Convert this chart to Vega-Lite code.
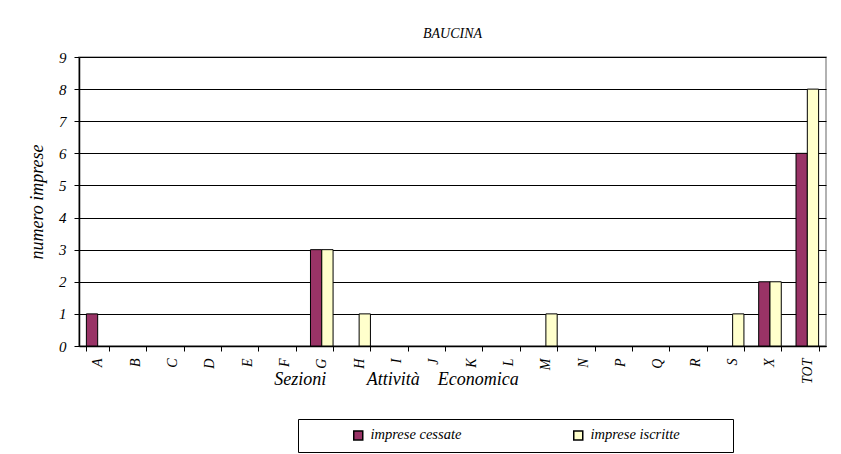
{
  "$schema": "https://vega.github.io/schema/vega-lite/v6.json",
  "autosize": "none",
  "width": 747,
  "height": 289,
  "padding": {"left": 79, "top": 57, "right": 15, "bottom": 108},
  "background": "white",
  "title": {
    "text": "BAUCINA",
    "font": "Liberation Serif",
    "fontSize": 14,
    "fontStyle": "italic",
    "fontWeight": "normal",
    "color": "black",
    "baseline": "alphabetic",
    "offset": -2
  },
  "data": {
    "values": [
      {"sezione": "A", "serie": "imprese cessate", "valore": 1},
      {"sezione": "A", "serie": "imprese iscritte", "valore": 0},
      {"sezione": "B", "serie": "imprese cessate", "valore": 0},
      {"sezione": "B", "serie": "imprese iscritte", "valore": 0},
      {"sezione": "C", "serie": "imprese cessate", "valore": 0},
      {"sezione": "C", "serie": "imprese iscritte", "valore": 0},
      {"sezione": "D", "serie": "imprese cessate", "valore": 0},
      {"sezione": "D", "serie": "imprese iscritte", "valore": 0},
      {"sezione": "E", "serie": "imprese cessate", "valore": 0},
      {"sezione": "E", "serie": "imprese iscritte", "valore": 0},
      {"sezione": "F", "serie": "imprese cessate", "valore": 0},
      {"sezione": "F", "serie": "imprese iscritte", "valore": 0},
      {"sezione": "G", "serie": "imprese cessate", "valore": 3},
      {"sezione": "G", "serie": "imprese iscritte", "valore": 3},
      {"sezione": "H", "serie": "imprese cessate", "valore": 0},
      {"sezione": "H", "serie": "imprese iscritte", "valore": 1},
      {"sezione": "I", "serie": "imprese cessate", "valore": 0},
      {"sezione": "I", "serie": "imprese iscritte", "valore": 0},
      {"sezione": "J", "serie": "imprese cessate", "valore": 0},
      {"sezione": "J", "serie": "imprese iscritte", "valore": 0},
      {"sezione": "K", "serie": "imprese cessate", "valore": 0},
      {"sezione": "K", "serie": "imprese iscritte", "valore": 0},
      {"sezione": "L", "serie": "imprese cessate", "valore": 0},
      {"sezione": "L", "serie": "imprese iscritte", "valore": 0},
      {"sezione": "M", "serie": "imprese cessate", "valore": 0},
      {"sezione": "M", "serie": "imprese iscritte", "valore": 1},
      {"sezione": "N", "serie": "imprese cessate", "valore": 0},
      {"sezione": "N", "serie": "imprese iscritte", "valore": 0},
      {"sezione": "P", "serie": "imprese cessate", "valore": 0},
      {"sezione": "P", "serie": "imprese iscritte", "valore": 0},
      {"sezione": "Q", "serie": "imprese cessate", "valore": 0},
      {"sezione": "Q", "serie": "imprese iscritte", "valore": 0},
      {"sezione": "R", "serie": "imprese cessate", "valore": 0},
      {"sezione": "R", "serie": "imprese iscritte", "valore": 0},
      {"sezione": "S", "serie": "imprese cessate", "valore": 0},
      {"sezione": "S", "serie": "imprese iscritte", "valore": 1},
      {"sezione": "X", "serie": "imprese cessate", "valore": 2},
      {"sezione": "X", "serie": "imprese iscritte", "valore": 2},
      {"sezione": "TOT", "serie": "imprese cessate", "valore": 6},
      {"sezione": "TOT", "serie": "imprese iscritte", "valore": 8}
    ]
  },
  "transform": [{"filter": "datum.valore > 0"}],
  "mark": {"type": "bar", "stroke": "black", "strokeWidth": 1},
  "encoding": {
    "x": {
      "field": "sezione",
      "type": "nominal",
      "sort": ["A","B","C","D","E","F","G","H","I","J","K","L","M","N","P","Q","R","S","X","TOT"],
      "scale": {
        "domain": ["A","B","C","D","E","F","G","H","I","J","K","L","M","N","P","Q","R","S","X","TOT"],
        "paddingInner": 0.395,
        "paddingOuter": 0.1975
      },
      "axis": {
        "title": "Sezioni\u00a0\u00a0\u00a0\u00a0\u00a0\u00a0\u00a0\u00a0\u00a0Attività\u00a0\u00a0\u00a0\u00a0Economica",
        "titleFont": "Liberation Serif",
        "titleFontSize": 18,
        "titleFontStyle": "italic",
        "titleFontWeight": "normal",
        "titleColor": "black",
        "titleAlign": "center",
        "titleBaseline": "alphabetic",
        "titleX": 317,
        "titleY": 38,
        "labelAngle": 270,
        "labelFont": "Liberation Serif",
        "labelFontSize": 14,
        "labelFontStyle": "italic",
        "labelColor": "black",
        "labelPadding": 7,
        "tickBand": "extent",
        "tickSize": 5,
        "tickColor": "black",
        "domainColor": "black",
        "domainWidth": 1.5,
        "grid": false
      }
    },
    "xOffset": {
      "field": "serie",
      "type": "nominal",
      "scale": {"domain": ["imprese cessate", "imprese iscritte"], "paddingInner": 0, "paddingOuter": 0}
    },
    "y": {
      "field": "valore",
      "type": "quantitative",
      "scale": {"domain": [0, 9], "nice": false},
      "axis": {
        "title": "numero imprese",
        "titleFont": "Liberation Serif",
        "titleFontSize": 18,
        "titleFontStyle": "italic",
        "titleFontWeight": "normal",
        "titleColor": "black",
        "titlePadding": 12,
        "values": [0,1,2,3,4,5,6,7,8,9],
        "labelFont": "Liberation Serif",
        "labelFontSize": 15,
        "labelFontStyle": "italic",
        "labelColor": "black",
        "labelPadding": 8,
        "tickSize": 5,
        "tickColor": "black",
        "domainColor": "black",
        "domainWidth": 1.5,
        "grid": true,
        "gridColor": "black",
        "gridWidth": 1
      }
    },
    "color": {
      "field": "serie",
      "type": "nominal",
      "scale": {"domain": ["imprese cessate", "imprese iscritte"], "range": ["#993366", "#FFFFCC"]},
      "legend": {
        "title": null,
        "orient": "none",
        "direction": "horizontal",
        "legendX": 219,
        "legendY": 362,
        "strokeColor": "black",
        "padding": 9,
        "symbolType": "square",
        "symbolSize": 81,
        "symbolStrokeColor": "black",
        "symbolStrokeWidth": 1.5,
        "symbolOffset": 44,
        "labelOffset": 5,
        "columnPadding": 65,
        "labelFont": "Liberation Serif",
        "labelFontSize": 14.5,
        "labelFontStyle": "italic",
        "labelColor": "black",
        "labelExpr": "datum.label == 'imprese iscritte' ? datum.label + '\u00a0\u00a0\u00a0\u00a0\u00a0\u00a0\u00a0\u00a0\u00a0\u00a0\u00a0\u00a0\u200b' : datum.label",
        "labelLimit": 600
      }
    }
  },
  "config": {
    "view": {"stroke": "#999999", "strokeWidth": 1.5}
  }
}
